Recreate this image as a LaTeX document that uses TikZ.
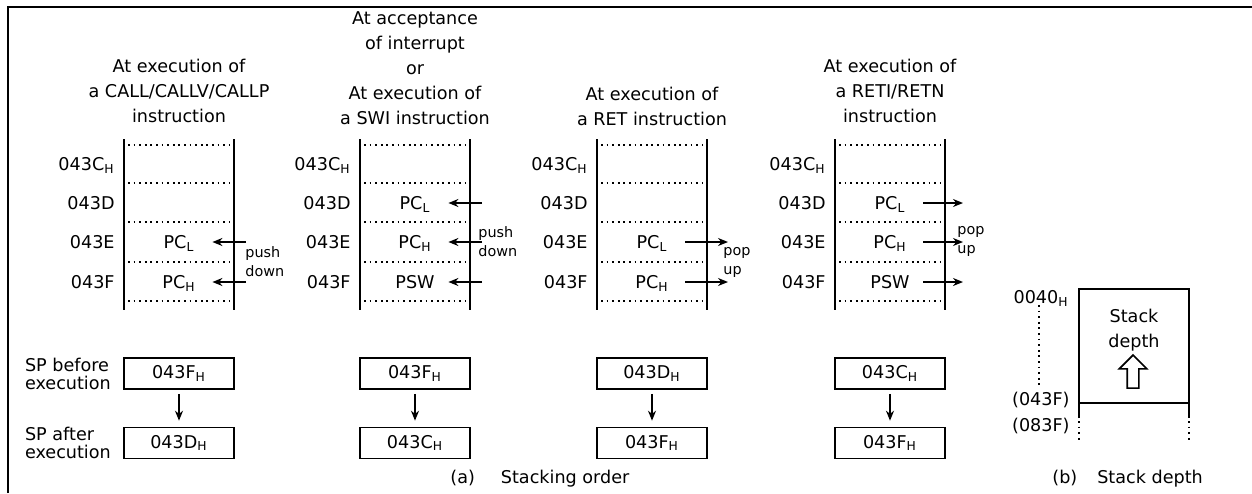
\documentclass[tikz,border=0pt]{standalone}
\usepackage{fontspec}
\setmainfont{DejaVu Sans}
\usetikzlibrary{positioning,shapes.arrows,arrows.meta}

\begin{document}
\begin{tikzpicture}[x=0.5pt, y=-0.5pt, node distance=6pt, font=\fontsize{8.8}{12.5}\selectfont]
    \tikzstyle{frame} = [line width=1pt]
    \tikzstyle{wall} = [line width=1pt]
    \tikzstyle{sep} = [line width=0.9pt, dash pattern=on 0.9pt off 1.9pt]
    \tikzstyle{addr} = [anchor=east, inner sep=0pt, text height=6.4pt, text depth=0pt]
    \tikzstyle{cell} = [minimum width=33pt, inner sep=0pt, text height=6.4pt, text depth=0pt]
    \tikzstyle{title} = [anchor=south, align=center, inner sep=0pt]
    \tikzstyle{spbox} = [rectangle, draw, line width=0.8pt, minimum width=55pt, minimum height=15.5pt, inner sep=0pt]
    \tikzstyle{splabel} = [align=left, inner sep=0pt, font=\fontsize{8.8}{9}\selectfont]
    \tikzstyle{note} = [anchor=west, align=left, inner sep=0pt, font=\fontsize{7.2}{9.5}\selectfont]
    \tikzstyle{arrow} = [line width=0.8pt, -{Stealth[length=5pt, width=4pt]}]

    \useasboundingbox (0,0) rectangle (1252,493);
    \draw [frame] (8,493) -- (8,7) -- (1252,7);

    % (a) the four stacks
    \foreach \s/\L in {1/124, 2/360, 3/597, 4/835} {
        \draw [wall] (\L,139) -- (\L,310);
        \draw [wall] (\L+110,139) -- (\L+110,310);
        \foreach \y in {145,183,222,262,301}
            \draw [sep] (\L+4,\y) -- (\L+106,\y);
        \node (a\s c) [addr] at (\L-9,164) {043C\textsubscript{H}};
        \node (a\s d) [addr] at (\L-9,203) {043D};
        \node (a\s e) [addr] at (\L-9,242) {043E};
        \node (a\s f) [addr] at (\L-9,282) {043F};
    }

    \node (t1) [title] at (179,123) {At execution of\\a CALL/CALLV/CALLP\\instruction};
    \node (t2) [title] at (415,125) {At acceptance\\of interrupt\\or\\At execution of\\a SWI instruction};
    \node (t3) [title] at (652,126) {At execution of\\a RET instruction};
    \node (t4) [title] at (890,123) {At execution of\\a RETI/RETN\\instruction};

    % CALL: push down
    \node (s1e) [cell] at (179,242) {PC\textsubscript{L}};
    \node (s1f) [cell] at (179,282) {PC\textsubscript{H}};
    \coordinate (o1e) at (246,242);
    \coordinate (o1f) at (246,282);
    \draw [arrow] (o1e) -- (s1e);
    \draw [arrow] (o1f) -- (s1f);
    \node (n1) [note] at (245,262) {push\\down};

    % interrupt / SWI: push down
    \node (s2d) [cell] at (415,203) {PC\textsubscript{L}};
    \node (s2e) [cell] at (415,242) {PC\textsubscript{H}};
    \node (s2f) [cell] at (415,282) {PSW};
    \coordinate (o2d) at (482,203);
    \coordinate (o2e) at (482,242);
    \coordinate (o2f) at (482,282);
    \draw [arrow] (o2d) -- (s2d);
    \draw [arrow] (o2e) -- (s2e);
    \draw [arrow] (o2f) -- (s2f);
    \node (n2) [note] at (478,242) {push\\down};

    % RET: pop up
    \node (s3e) [cell] at (652,242) {PC\textsubscript{L}};
    \node (s3f) [cell] at (652,282) {PC\textsubscript{H}};
    \coordinate (o3e) at (728,242);
    \coordinate (o3f) at (728,282);
    \draw [arrow] (s3e) -- (o3e);
    \draw [arrow] (s3f) -- (o3f);
    \node (n3) [note] at (723,262) {pop\\up};

    % RETI/RETN: pop up
    \node (s4d) [cell] at (890,203) {PC\textsubscript{L}};
    \node (s4e) [cell] at (890,242) {PC\textsubscript{H}};
    \node (s4f) [cell] at (890,282) {PSW};
    \coordinate (o4d) at (963,203);
    \coordinate (o4e) at (963,242);
    \coordinate (o4f) at (963,282);
    \draw [arrow] (s4d) -- (o4d);
    \draw [arrow] (s4e) -- (o4e);
    \draw [arrow] (s4f) -- (o4f);
    \node (n4) [note] at (957,241) {pop\\up};

    % stack pointer before and after
    \node (b1) [spbox] at (179,373.5) {043F\textsubscript{H}};
    \node (c1) [spbox] at (179,443) {043D\textsubscript{H}};
    \node (b2) [spbox] at (415,373.5) {043F\textsubscript{H}};
    \node (c2) [spbox] at (415,443) {043C\textsubscript{H}};
    \node (b3) [spbox] at (652,373.5) {043D\textsubscript{H}};
    \node (c3) [spbox] at (652,443) {043F\textsubscript{H}};
    \node (b4) [spbox] at (890,373.5) {043C\textsubscript{H}};
    \node (c4) [spbox] at (890,443) {043F\textsubscript{H}};
    \foreach \s in {1,2,3,4}
        \draw [arrow, shorten <=2pt, shorten >=3pt] (b\s) -- (c\s);
    \node (spb) [splabel, left=6pt of b1] {SP before\\execution};
    \node (spa) [splabel, left=6pt of c1] {SP after\\execution};

    \node (capa) [anchor=west, inner sep=0pt] at (450,479) {(a)\hspace{13pt}Stacking order};

    % (b) stack depth
    \draw [wall] (1079,418) -- (1079,289) -- (1189,289) -- (1189,418);
    \draw [wall] (1079,403) -- (1189,403);
    \draw [sep] (1079,421) -- (1079,443);
    \draw [sep] (1189,421) -- (1189,443);
    \draw [sep] (1039,305) -- (1039,387);
    \node (h0) [addr] at (1069,297) {0040\textsubscript{H}};
    \node (h1) [addr] at (1070,399) {(043F)};
    \node (h2) [addr] at (1070,425) {(083F)};
    \node (dep) [align=center, inner sep=0pt] at (1134,330) {Stack\\depth};
    \node (up) [single arrow, draw, line width=0.8pt, rotate=90, inner sep=2.5pt,
        minimum height=16.5pt, single arrow head extend=4pt] at (1133,374.5) {};

    \node (capb) [anchor=west, inner sep=0pt] at (1052,479) {(b)\hspace{10pt}Stack depth};
\end{tikzpicture}
\end{document}
